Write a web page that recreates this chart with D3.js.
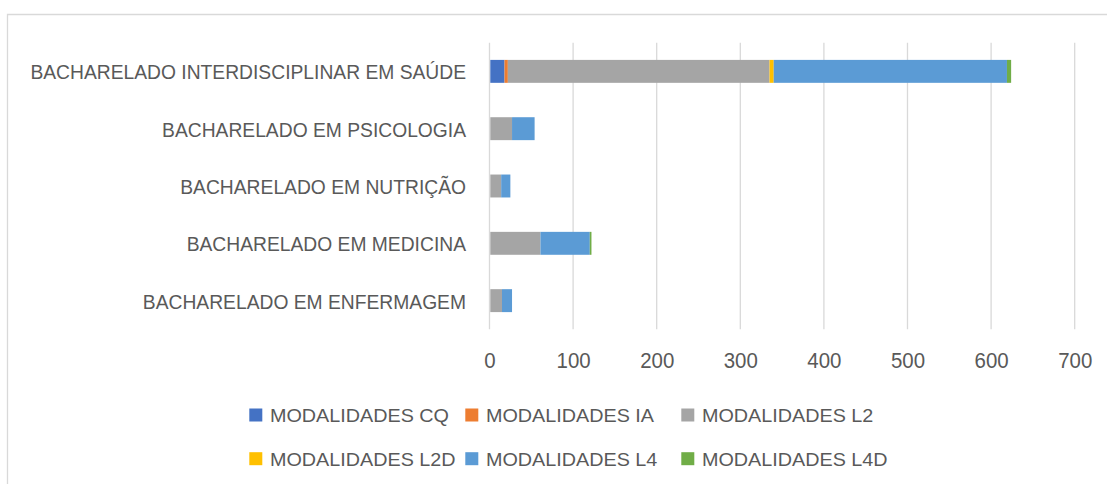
<!DOCTYPE html>
<html>
<head>
<meta charset="utf-8">
<script src="https://cdn.jsdelivr.net/npm/d3@7"></script>
<style>
  body { margin: 0; background: #fff; }
  svg { display: block; font-family: "Liberation Sans", Arial, sans-serif; }
</style>
</head>
<body>
<svg id="chart" width="1107" height="484"></svg>
<script>
const courses = [
  'BACHARELADO INTERDISCIPLINAR EM SAÚDE',
  'BACHARELADO EM PSICOLOGIA',
  'BACHARELADO EM NUTRIÇÃO',
  'BACHARELADO EM MEDICINA',
  'BACHARELADO EM ENFERMAGEM'
];
const seriesNames = ['MODALIDADES CQ', 'MODALIDADES IA', 'MODALIDADES L2', 'MODALIDADES L2D', 'MODALIDADES L4', 'MODALIDADES L4D'];
const seriesColors = ['#4472C4', '#ED7D31', '#A5A5A5', '#FFC000', '#5B9BD5', '#70AD47'];
// values per course, same order as courses
const cq  = [17, 0, 0, 0, 0];
const ia  = [4, 0, 0, 0, 0];
const l2  = [313, 26, 13, 60, 14];
const l2d = [5, 0, 0, 0, 0];
const l4  = [279, 27, 11, 59, 12];
const l4d = [5, 0, 0, 2, 0];
const xTicks = [0, 100, 200, 300, 400, 500, 600, 700];

const seriesValues = [cq, ia, l2, l2d, l4, l4d];
const textColor = '#595959';
const gridColor = '#d9d9d9';

const svg = d3.select('#chart');

// scale text width (original uses Calibri, which has other proportions)
function squeeze(sel, k) {
  sel.each(function () {
    const w = this.getComputedTextLength();
    d3.select(this).attr('textLength', w * k).attr('lengthAdjust', 'spacingAndGlyphs');
  });
}

// chart frame (only top and left edges visible)
svg.append('path')
  .attr('d', 'M7.5,484 V14.5 H1107')
  .attr('fill', 'none')
  .attr('stroke', gridColor)
  .attr('stroke-width', 1.3);

const x = d3.scaleLinear().domain([0, 700]).range([489.5, 1074.7]);
const y = d3.scaleBand().domain(courses).range([42.7, 329.3]).paddingInner(0.6).paddingOuter(0.3);

// gridlines
svg.append('g')
  .selectAll('line')
  .data(xTicks)
  .enter()
  .append('line')
  .attr('x1', d => x(d)).attr('x2', d => x(d))
  .attr('y1', 42.7).attr('y2', 329.3)
  .attr('stroke', gridColor)
  .attr('stroke-width', 1.3);

// stacked bars
const table = courses.map((c, i) => {
  const row = { course: c };
  seriesNames.forEach((s, j) => { row[s] = seriesValues[j][i]; });
  return row;
});
const stacked = d3.stack().keys(seriesNames)(table);

svg.append('g')
  .attr('transform', 'translate(0.8,0)')
  .selectAll('g')
  .data(stacked)
  .enter()
  .append('g')
  .attr('fill', (d, i) => seriesColors[i])
  .selectAll('rect')
  .data(d => d)
  .enter()
  .append('rect')
  .attr('x', d => x(d[0]))
  .attr('width', d => x(d[1]) - x(d[0]))
  .attr('y', d => y(d.data.course))
  .attr('height', y.bandwidth());

// x axis labels
const xAxis = svg.append('g')
  .attr('transform', 'translate(0,360)')
  .call(d3.axisBottom(x).tickValues(xTicks).tickSize(0).tickPadding(0));
xAxis.select('.domain').remove();
xAxis.selectAll('text')
  .attr('dy', '0.35em')
  .attr('fill', textColor)
  .style('font-size', '22px')
  .call(squeeze, 0.93);

// category labels
const yAxis = svg.append('g')
  .attr('transform', 'translate(466,0)')
  .call(d3.axisLeft(y).tickSize(0).tickPadding(0));
yAxis.select('.domain').remove();
yAxis.selectAll('text')
  .attr('dy', '0.4em')
  .attr('fill', textColor)
  .style('font-size', '20px')
  .call(squeeze, 0.963);

// legend
const legend = svg.append('g');
const item = legend.selectAll('g')
  .data(seriesNames)
  .enter()
  .append('g')
  .attr('transform', (d, i) => `translate(${249.3 + (i % 3) * 216},${i < 3 ? 415 : 458.7})`);
item.append('rect')
  .attr('x', 0).attr('y', -6.5)
  .attr('width', 13).attr('height', 13)
  .attr('fill', (d, i) => seriesColors[i]);
item.append('text')
  .attr('x', 20.7)
  .attr('dy', '0.36em')
  .attr('fill', textColor)
  .style('font-size', '19px')
  .text(d => d)
  .call(squeeze, 1.04);
</script>
</body>
</html>
